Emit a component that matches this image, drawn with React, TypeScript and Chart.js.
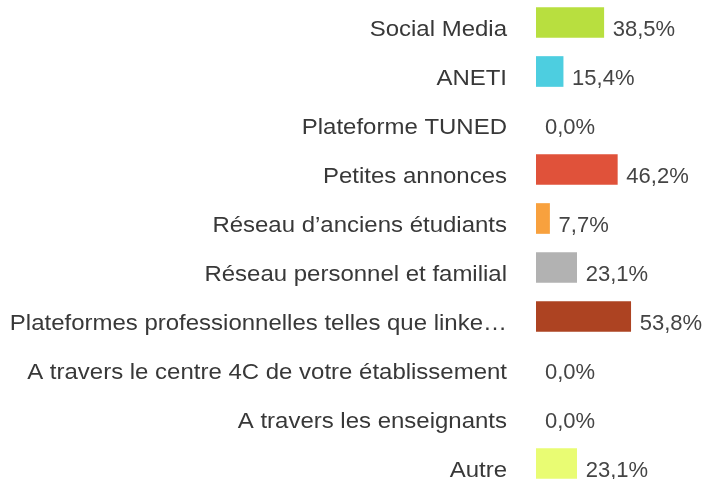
import React, { useEffect, useRef } from "react";
import { Chart, registerables } from "chart.js";

Chart.register(...registerables);

const categories = [
  "Social Media",
  "ANETI",
  "Plateforme TUNED",
  "Petites annonces",
  "Réseau d’anciens étudiants",
  "Réseau personnel et familial",
  "Plateformes professionnelles telles que linke…",
  "A travers le centre 4C de votre établissement",
  "A travers les enseignants",
  "Autre",
];

const values = [38.5, 15.4, 0.0, 46.2, 7.7, 23.1, 53.8, 0.0, 0.0, 23.1];

const valueLabels = ["38,5%", "15,4%", "0,0%", "46,2%", "7,7%", "23,1%", "53,8%", "0,0%", "0,0%", "23,1%"];

const barColors = [
  "#b8df3f",
  "#4dcee0",
  "rgba(0,0,0,0)",
  "#e0523a",
  "#f8a13e",
  "#b2b2b2",
  "#ad4322",
  "rgba(0,0,0,0)",
  "rgba(0,0,0,0)",
  "#e9fc73",
];

const FONT = "'Liberation Sans', Arial, sans-serif";
const TEXT_SHIFT = 7;
const LABEL_RIGHT = 507;
const LABEL_STRETCH = 1.09;

const stretchPlugin = {
  id: "labelStretch",
  beforeDraw(chart: any) {
    const ctx = chart.ctx;
    ctx.save();
    ctx.translate(LABEL_RIGHT, 0);
    ctx.scale(LABEL_STRETCH, 1);
    ctx.translate(-LABEL_RIGHT, 0);
  },
  beforeDatasetsDraw(chart: any) {
    chart.ctx.restore();
  },
};

const valueLabelPlugin = {
  id: "valueLabels",
  afterDatasetsDraw(chart: any) {
    const ctx = chart.ctx;
    const meta = chart.getDatasetMeta(0);
    ctx.save();
    ctx.font = `22px ${FONT}`;
    ctx.fillStyle = "#444444";
    ctx.textAlign = "left";
    ctx.textBaseline = "middle";
    meta.data.forEach((bar: any, i: number) => {
      ctx.fillText(valueLabels[i], bar.x + 9, bar.y + TEXT_SHIFT);
    });
    ctx.restore();
  },
};

export default function App() {
  const canvasRef = useRef<HTMLCanvasElement | null>(null);

  useEffect(() => {
    document.body.style.margin = "0";
    document.body.style.overflow = "hidden";
    const chart = new Chart(canvasRef.current as HTMLCanvasElement, {
      type: "bar",
      data: {
        labels: categories,
        datasets: [
          {
            data: values,
            backgroundColor: barColors,
            borderWidth: 0,
            barThickness: 30,
          },
        ],
      },
      options: {
        indexAxis: "y",
        animation: false,
        responsive: false,
        maintainAspectRatio: false,
        layout: { padding: 0 },
        plugins: {
          legend: { display: false },
          tooltip: { enabled: false },
        },
        scales: {
          x: {
            display: false,
            min: 0,
            max: 96,
          },
          y: {
            grid: { display: false, drawTicks: false },
            border: { display: false },
            ticks: {
              color: "#383838",
              font: { family: FONT, size: 22 },
              padding: 29,
              labelOffset: TEXT_SHIFT,
              autoSkip: false,
            },
            afterFit(scale: any) {
              scale.width = 536;
              scale.paddingTop = 0;
              scale.paddingBottom = 0;
            },
          },
        },
      },
      plugins: [stretchPlugin, valueLabelPlugin],
    });
    return () => chart.destroy();
  }, []);

  return (
    <div style={{ position: "fixed", left: 0, top: 0, width: 705, height: 479, overflow: "hidden", background: "#fff" }}>
      <div style={{ position: "absolute", left: 0, top: -2, width: 705, height: 490 }}>
        <canvas ref={canvasRef} width={705} height={490} style={{ width: 705, height: 490, display: "block" }} />
      </div>
    </div>
  );
}
